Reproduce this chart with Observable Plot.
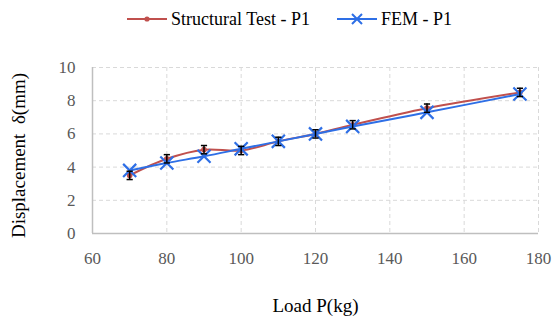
<!DOCTYPE html>
<html>
<head>
<meta charset="utf-8">
<script src="https://cdn.jsdelivr.net/npm/d3@7"></script>
<script src="https://cdn.jsdelivr.net/npm/@observablehq/plot@0.6"></script>
<style>
  html, body { margin: 0; padding: 0; background: #fff; }
  body { width: 556px; height: 322px; overflow: hidden; font-family: "Liberation Serif", "Times New Roman", serif; }
  #legend { position: relative; height: 40px; font-size: 18px; color: #000; }
  .item { position: absolute; top: 8px; display: flex; align-items: center; }
  .item svg { display: block; }
  .item span { margin-left: 4px; line-height: 22px; }
  #chart svg text { font-family: "Liberation Serif", "Times New Roman", serif; }
</style>
</head>
<body>
<div id="legend"></div>
<div id="chart"></div>
<script>
const loads = [70, 80, 90, 100, 110, 120, 130, 150, 175];
const structural = [3.5, 4.5, 5.05, 5.0, 5.55, 6.0, 6.55, 7.55, 8.5];
const fem = [3.8, 4.25, 4.65, 5.1, 5.55, 6.0, 6.45, 7.3, 8.4];
const errorBar = [0.25, 0.25, 0.25, 0.25, 0.25, 0.25, 0.25, 0.25, 0.25];
const xTicks = [60, 80, 100, 120, 140, 160, 180];
const yTicks = [0, 2, 4, 6, 8, 10];
const seriesNames = ["Structural Test - P1", "FEM - P1"];
const red = "#C0504D";
const blue = "#2E6FE6";

const testData = loads.map((x, i) => ({x, y: structural[i], e: errorBar[i]}));
const femData = loads.map((x, i) => ({x, y: fem[i]}));

// Legend (HTML)
const legend = document.getElementById("legend");
legend.innerHTML = `
  <div class="item" style="left:127px">
    <svg width="40" height="12"><line x1="0" y1="6" x2="40" y2="6" stroke="${red}" stroke-width="2"/><circle cx="20" cy="6" r="2.6" fill="${red}"/></svg>
    <span>${seriesNames[0]}</span>
  </div>
  <div class="item" style="left:337px">
    <svg width="40" height="12"><line x1="0" y1="6" x2="40" y2="6" stroke="${blue}" stroke-width="2"/><path d="M15,1 L25,11 M25,1 L15,11" stroke="${blue}" stroke-width="2"/></svg>
    <span>${seriesNames[1]}</span>
  </div>`;

// horizontal cap symbol for error bars
const capSymbol = {
  draw(context, size) {
    const w = Math.sqrt(size) / 2;
    context.moveTo(-w, 0);
    context.lineTo(w, 0);
  }
};

const serif = "Liberation Serif, Times New Roman, serif";
const chart = Plot.plot({
  width: 556,
  height: 282,
  marginLeft: 92,
  marginRight: 18,
  marginTop: 27,
  marginBottom: 89,
  style: { fontFamily: serif, fontSize: "17px", color: "#595959", background: "#fff", overflow: "visible" },
  x: { type: "linear", domain: [60, 180] },
  y: { type: "linear", domain: [0, 10] },
  marks: [
    Plot.gridX(xTicks.filter(d => d > 60), { stroke: "#d9d9d9", strokeOpacity: 1, strokeDasharray: "4,3" }),
    Plot.gridY(yTicks.filter(d => d > 0), { stroke: "#d9d9d9", strokeOpacity: 1, strokeDasharray: "4,3" }),
    Plot.ruleX([60], { stroke: "#bfbfbf", strokeWidth: 1.5 }),
    Plot.ruleY([0], { stroke: "#bfbfbf", strokeWidth: 1.5 }),
    Plot.axisX(xTicks, { tickSize: 0, tickPadding: 18, fill: "#595959", fontSize: 17, label: null }),
    Plot.axisY(yTicks, { tickSize: 0, tickPadding: 17, fill: "#595959", fontSize: 17, label: null }),
    Plot.text(["Load P(kg)"], { frameAnchor: "bottom", dy: 78, fill: "#000", fontSize: 19, textAnchor: "middle" }),
    Plot.text(["Displacement  δ(mm)"], { frameAnchor: "left", dx: -74, dy: 5, rotate: -90, fill: "#000", fontSize: 19, textAnchor: "middle" }),
    Plot.line(testData, { x: "x", y: "y", stroke: red, strokeWidth: 2, curve: "catmull-rom" }),
    Plot.dot(testData, { x: "x", y: "y", r: 2.8, fill: red, stroke: "none" }),
    Plot.line(femData, { x: "x", y: "y", stroke: blue, strokeWidth: 2, curve: "catmull-rom" }),
    Plot.dot(femData, { x: "x", y: "y", symbol: "times", r: 6, stroke: blue, strokeWidth: 2.2 }),
    Plot.ruleX(testData, { x: "x", y1: d => d.y - d.e, y2: d => d.y + d.e, stroke: "#000", strokeWidth: 1.5 }),
    Plot.dot(testData, { x: "x", y: d => d.y - d.e, symbol: capSymbol, r: 3.5, stroke: "#000", strokeWidth: 1.5 }),
    Plot.dot(testData, { x: "x", y: d => d.y + d.e, symbol: capSymbol, r: 3.5, stroke: "#000", strokeWidth: 1.5 })
  ]
});
document.getElementById("chart").appendChild(chart);
</script>
</body>
</html>
